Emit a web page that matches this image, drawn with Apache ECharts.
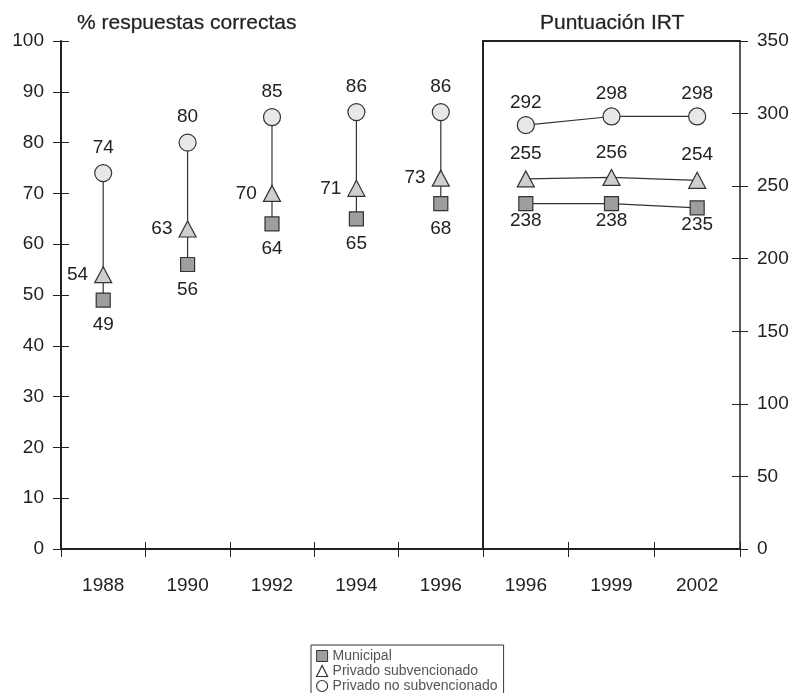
<!DOCTYPE html>
<html>
<head>
<meta charset="utf-8">
<script src="https://cdn.jsdelivr.net/npm/echarts@6/dist/echarts.min.js"></script>
<style>html,body{margin:0;padding:0;background:#fff}#c{width:795px;height:693px}</style>
</head>
<body>
<div id="c"></div>
<script>
// ---- data ----
var leftYears = ['1988', '1990', '1992', '1994', '1996'];
var municipalLeft = [49, 56, 64, 65, 68];
var subvLeft = [54, 63, 70, 71, 73];
var noSubvLeft = [74, 80, 85, 86, 86];

var rightYears = ['1996', '1999', '2002'];
var municipalRight = [238, 238, 235];
var subvRight = [255, 256, 254];
var noSubvRight = [292, 298, 298];

var leftTicks = [0, 100, 10];   // min, max, interval
var rightTicks = [0, 350, 50];

var titleLeft = '% respuestas correctas';
var titleRight = 'Puntuación IRT';
var names = ['Municipal', 'Privado subvencionado', 'Privado no subvencionado'];

// ---- style ----
var FONT = '"Liberation Sans", Arial, Helvetica, sans-serif';
var TXT = '#222';
var FS = 19;
var dark = '#222';
var colSq = '#9e9e9e', colTri = '#cfcfcf', colCirc = '#e8e8e8', border = '#333';

var chart = echarts.init(document.getElementById('c'));

function xAxes(gi, data) {
  return [
    { gridIndex: gi, type: 'category', data: data, position: 'bottom', boundaryGap: true,
      axisLine: { lineStyle: { color: dark, width: 2 } },
      axisTick: { show: true, length: 8, inside: false, lineStyle: { color: dark, width: 1 } },
      axisLabel: { fontFamily: FONT, fontSize: FS, color: TXT, margin: 27 },
      splitLine: { show: false } },
    { gridIndex: gi, type: 'category', data: data, position: 'bottom', boundaryGap: true,
      axisLine: { show: false },
      axisTick: { show: true, length: 7, inside: true, lineStyle: { color: dark, width: 1 } },
      axisLabel: { show: false }, splitLine: { show: false } },
    { gridIndex: gi, type: 'category', data: data, position: 'top', boundaryGap: true,
      axisLine: { lineStyle: { color: dark, width: 2 } },
      axisTick: { show: false }, axisLabel: { show: false }, splitLine: { show: false } }
  ];
}

var titleStyle = { fontFamily: FONT, fontSize: 21, fontWeight: 'normal', color: '#222',
                   textBorderColor: '#aaa', textBorderWidth: 0.6 };

var option = {
  animation: false,
  backgroundColor: '#fff',
  textStyle: { fontFamily: FONT },
  title: [
    { text: titleLeft, left: 72, top: 8, textStyle: titleStyle },
    { text: titleRight, left: 535, top: 8, textStyle: titleStyle }
  ],
  legend: {
    orient: 'vertical', left: 311, top: 645, height: 60,
    itemWidth: 11, itemHeight: 11, itemGap: 1,
    padding: [4, 6, 3, 5],
    borderColor: '#333', borderWidth: 1,
    textStyle: { fontFamily: FONT, fontSize: 14, lineHeight: 13, color: '#555' },
    data: [
      { name: names[0], icon: 'rect', itemStyle: { color: colSq, borderColor: border, borderWidth: 1 } },
      { name: names[1], icon: 'triangle', itemStyle: { color: '#fff', borderColor: border, borderWidth: 1.2 } },
      { name: names[2], icon: 'circle', itemStyle: { color: '#fff', borderColor: border, borderWidth: 1.2 } }
    ]
  },
  grid: [
    { left: 61, top: 41, width: 422, height: 508, show: false },
    { left: 483, top: 41, width: 257, height: 508, show: false }
  ],
  xAxis: xAxes(0, leftYears).concat(xAxes(1, rightYears)),
  yAxis: [
    { gridIndex: 0, type: 'value', position: 'left', min: leftTicks[0], max: leftTicks[1], interval: leftTicks[2],
      axisLine: { show: true, lineStyle: { color: dark, width: 2 } },
      axisTick: { show: true, length: 8, lineStyle: { color: dark } },
      axisLabel: { fontFamily: FONT, fontSize: FS, color: TXT, margin: 17 },
      splitLine: { show: false } },
    { gridIndex: 0, type: 'value', position: 'left', min: leftTicks[0], max: leftTicks[1], interval: leftTicks[2],
      axisLine: { show: false },
      axisTick: { show: true, inside: true, length: 8, lineStyle: { color: dark } },
      axisLabel: { show: false }, splitLine: { show: false } },
    { gridIndex: 0, type: 'value', position: 'right', min: leftTicks[0], max: leftTicks[1],
      axisLine: { show: true, lineStyle: { color: dark, width: 2 } },
      axisTick: { show: false }, axisLabel: { show: false }, splitLine: { show: false } },
    { gridIndex: 1, type: 'value', position: 'right', min: rightTicks[0], max: rightTicks[1], interval: rightTicks[2],
      axisLine: { show: true, lineStyle: { color: dark, width: 1.5 } },
      axisTick: { show: true, length: 8, lineStyle: { color: dark } },
      axisLabel: { fontFamily: FONT, fontSize: FS, color: TXT, margin: 17 },
      splitLine: { show: false } },
    { gridIndex: 1, type: 'value', position: 'right', min: rightTicks[0], max: rightTicks[1], interval: rightTicks[2],
      axisLine: { show: false },
      axisTick: { show: true, inside: true, length: 8, lineStyle: { color: dark } },
      axisLabel: { show: false }, splitLine: { show: false } }
  ],
  series: []
};

var lbl = function (pos, dist) {
  return { show: true, position: pos, distance: dist, fontFamily: FONT, fontSize: FS, color: TXT };
};

// Left panel range lines (square to circle)
option.series.push({
  type: 'custom', xAxisIndex: 0, yAxisIndex: 0, z: 1, silent: true,
  data: leftYears.map(function (y, i) { return [i, municipalLeft[i], noSubvLeft[i]]; }),
  renderItem: function (params, api) {
    var p1 = api.coord([api.value(0), api.value(1)]);
    var p2 = api.coord([api.value(0), api.value(2)]);
    return { type: 'line', shape: { x1: p1[0], y1: p1[1], x2: p2[0], y2: p2[1] },
             style: { stroke: '#333', lineWidth: 1.2 } };
  }
});

var symDefs = [
  { name: names[0], symbol: 'rect', size: 14, color: colSq },
  { name: names[1], symbol: 'triangle', size: [17, 16], color: colTri },
  { name: names[2], symbol: 'circle', size: 17, color: colCirc }
];
var leftData = [municipalLeft, subvLeft, noSubvLeft];
var rightData = [municipalRight, subvRight, noSubvRight];
var leftLabels = [lbl('bottom', 8), lbl('left', 6), lbl('top', 7)];
var rightLabels = [lbl('bottom', 0), lbl('top', 7), lbl('top', 4)];

symDefs.forEach(function (d, k) {
  option.series.push({
    type: 'scatter', name: d.name, xAxisIndex: 0, yAxisIndex: 0, z: 3,
    symbol: d.symbol, symbolSize: d.size,
    itemStyle: { color: d.color, borderColor: border, borderWidth: 1.2, opacity: 1 },
    label: leftLabels[k],
    data: leftData[k]
  });
  option.series.push({
    type: 'line', name: d.name, xAxisIndex: 3, yAxisIndex: 3, z: 3,
    symbol: d.symbol, symbolSize: d.size, showAllSymbol: true,
    lineStyle: { color: '#333', width: 1.2 },
    itemStyle: { color: d.color, borderColor: border, borderWidth: 1.2 },
    label: rightLabels[k],
    data: rightData[k]
  });
});

chart.setOption(option);
</script>
</body>
</html>
